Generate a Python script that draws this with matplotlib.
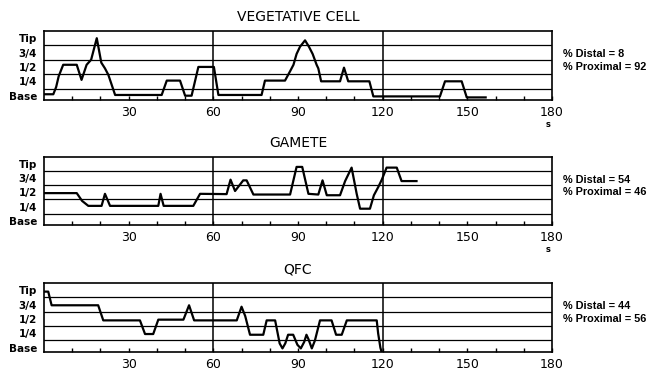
import matplotlib.pyplot as plt

# trace of each cell type: time (s) and position level (0=Base ... 4=Tip)
veg_t = [0, 3.3, 4.3, 5.2, 6.8, 11.6, 13.3, 15.1, 16.7, 18.7, 20.3, 21.6, 22.8, 25.2,
         41.7, 43.5, 48.2, 50.0, 52.3, 54.7, 60.2, 61.8, 77.1, 78.3, 85.4, 87.2, 88.4,
         89.5, 90.7, 92.5, 93.9, 95.2, 96.6, 97.2, 98.2, 104.9, 106.3, 107.8, 115.3,
         116.7, 140.3, 142.1, 148.0, 149.8, 156.5]
veg_lv = [0.1, 0.1, 0.6, 1.35, 2.15, 2.15, 1.1, 2.15, 2.5, 4.0, 2.3, 1.9, 1.45, 0.05,
          0.05, 1.05, 1.05, 0.0, 0.0, 2.0, 2.0, 0.05, 0.05, 1.05, 1.05, 1.7, 2.15,
          2.9, 3.4, 3.85, 3.4, 2.9, 2.15, 1.9, 1.0, 1.0, 1.95, 1.0, 1.0,
          -0.05, -0.05, 1.0, 1.0, -0.12, -0.12]

gam_t = [0, 11.6, 13.5, 15.7, 20.4, 21.6, 23.4, 40.5, 41.3, 42.4, 52.9, 55.3, 64.7,
         66.1, 67.7, 70.6, 71.8, 74.2, 87.2, 89.5, 91.5, 93.7, 97.2, 98.7, 100.2,
         104.9, 106.7, 109.0, 110.8, 112.0, 115.5, 116.9, 118.5, 119.7, 121.4, 125.0,
         126.7, 132.0]
gam_lv = [1.95, 1.95, 1.4, 1.05, 1.05, 1.9, 1.05, 1.05, 1.9, 1.05, 1.05, 1.9, 1.88,
          2.9, 2.1, 2.85, 2.85, 1.85, 1.85, 3.8, 3.8, 1.9, 1.85, 2.85, 1.8,
          1.8, 2.8, 3.75, 1.9, 0.85, 0.85, 1.8, 2.4, 2.9, 3.75, 3.75,
          2.8, 2.8]

qfc_t = [0, 1.5, 2.7, 19.2, 21.0, 34.0, 35.8, 38.7, 40.5, 49.4, 51.4, 53.2, 68.3, 70.0,
         71.3, 73.0, 77.7, 78.9, 81.9, 83.5, 84.5, 85.5, 86.5, 88.3, 89.8, 91.0, 92.2,
         93.0, 93.7, 94.9, 96.0, 97.8, 101.9, 103.5, 105.5, 107.3, 117.9, 118.4,
         119.2, 119.7]
qfc_lv = [3.9, 3.9, 2.95, 2.95, 1.9, 1.9, 0.95, 0.95, 1.95, 1.95, 2.95, 1.9, 1.9, 2.85,
          2.2, 0.9, 0.9, 1.9, 1.9, 0.3, -0.05, 0.3, 0.9, 0.9, 0.2, -0.05, 0.4,
          0.9, 0.6, -0.05, 0.5, 1.9, 1.9, 0.9, 0.9, 1.9, 1.9, 1.0,
          0.0, -0.35]

titles = ["VEGETATIVE CELL", "GAMETE", "QFC"]
distal = [8, 54, 44]
proximal = [92, 46, 56]
level_labels = ["Base", "1/4", "1/2", "3/4", "Tip"]
x_ticks = [30, 60, 90, 120, 150, 180]

series = [(veg_t, veg_lv), (gam_t, gam_lv), (qfc_t, qfc_lv)]
boxes = [[0.0678, 0.7319, 0.7827, 0.185],
         [0.0678, 0.3968, 0.7827, 0.1823],
         [0.0678, 0.0563, 0.7827, 0.185]]

fig = plt.figure(figsize=(6.49, 3.73), dpi=100)

for i, (t, lv) in enumerate(series):
    ax = fig.add_axes(boxes[i])
    ax.plot(t, lv, color="black", lw=1.6, solid_joinstyle="round")
    for y in [0.5, 1.5, 2.5, 3.5]:
        ax.axhline(y, color="black", lw=0.9)  # row separators
    ax.axvline(60, color="black", lw=1.1)
    ax.axvline(120, color="black", lw=1.1)

    ax.set_xlim(0, 180)
    ax.set_ylim(-0.3, 4.5)
    ax.set_xticks(x_ticks)
    ax.set_xticks(range(10, 180, 10), minor=True)
    ax.tick_params(axis="x", which="both", direction="in", length=3, width=1, pad=4,
                   labelsize=9)
    ax.set_yticks(range(5))
    ax.set_yticklabels(level_labels, fontsize=7.5, fontweight="bold")
    ax.tick_params(axis="y", length=0, pad=5)
    for s in ax.spines.values():
        s.set_linewidth(1.2)

    ax.set_title(titles[i], fontsize=10, pad=7)
    ax.text(1.022, 0.66, f"% Distal = {distal[i]}", transform=ax.transAxes,
            fontsize=7.8, fontweight="bold", family="Liberation Sans", va="center")
    ax.text(1.022, 0.48, f"% Proximal = {proximal[i]}", transform=ax.transAxes,
            fontsize=7.8, fontweight="bold", family="Liberation Sans", va="center")
    if i < 2:
        ax.text(0.992, -0.36, "s", transform=ax.transAxes, fontsize=6,
                fontweight="bold", ha="center", va="center")

fig.savefig("out.png", dpi=100)
